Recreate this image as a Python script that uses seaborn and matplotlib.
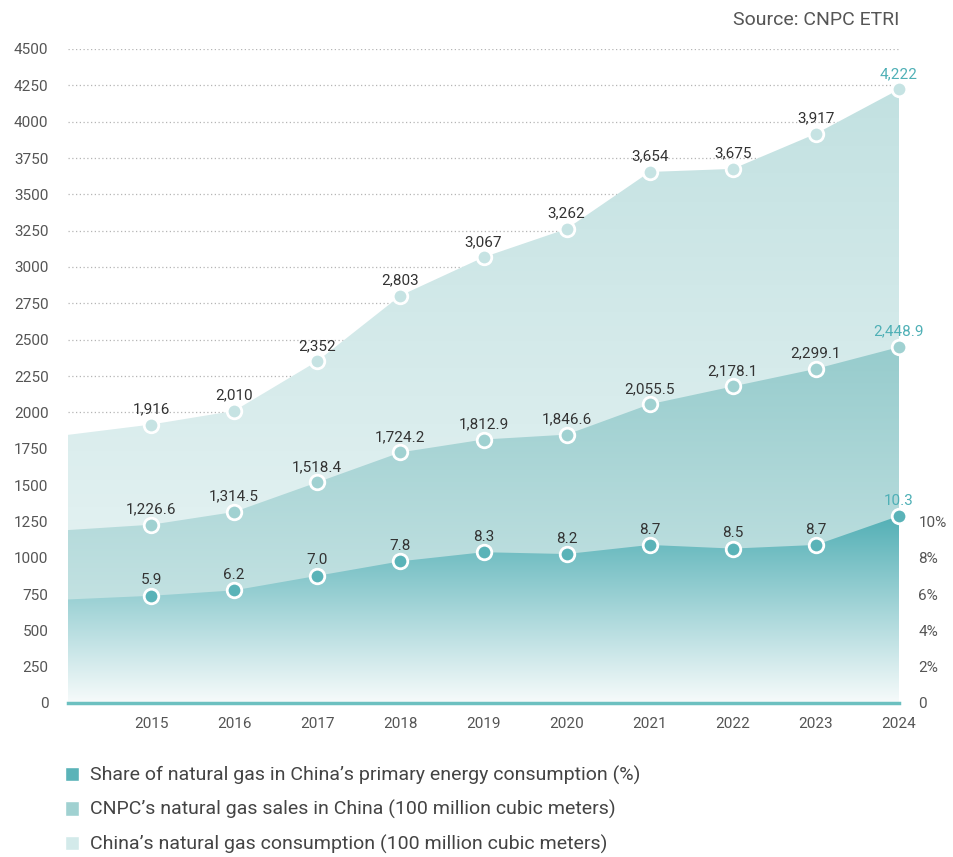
import numpy as np
import pandas as pd
import seaborn as sns
import matplotlib.pyplot as plt
from matplotlib.patches import Patch
from matplotlib.colors import LinearSegmentedColormap

years = [2014, 2015, 2016, 2017, 2018, 2019, 2020, 2021, 2022, 2023, 2024]
consumption = [1845, 1916, 2010, 2352, 2803, 3067, 3262, 3654, 3675, 3917, 4222]
sales = [1190, 1226.6, 1314.5, 1518.4, 1724.2, 1812.9, 1846.6, 2055.5, 2178.1, 2299.1, 2448.9]
share = [5.7, 5.9, 6.2, 7.0, 7.8, 8.3, 8.2, 8.7, 8.5, 8.7, 10.3]

cons_labels = ['1,916', '2,010', '2,352', '2,803', '3,067', '3,262', '3,654', '3,675', '3,917', '4,222']
sales_labels = ['1,226.6', '1,314.5', '1,518.4', '1,724.2', '1,812.9', '1,846.6', '2,055.5',
                '2,178.1', '2,299.1', '2,448.9']
share_labels = ['5.9', '6.2', '7.0', '7.8', '8.3', '8.2', '8.7', '8.5', '8.7', '10.3']

legend_names = ["Share of natural gas in China\u2019s primary energy consumption (%)",
                "CNPC\u2019s natural gas sales in China (100 million cubic meters)",
                "China\u2019s natural gas consumption (100 million cubic meters)"]

SCALE = 125  # 1% on right axis == 125 on left axis

sns.set_theme(style="white")
plt.rcParams['font.family'] = ['Roboto', 'DejaVu Sans']

df = pd.DataFrame({'year': years, 'consumption': consumption, 'sales': sales,
                   'share': [s * SCALE for s in share]})

fig = plt.figure(figsize=(9.54, 8.57), dpi=100)
ax = fig.add_axes([68 / 954, 1 - 703 / 857, (899 - 68) / 954, (703 - 49) / 857])

teal = '#4fb0b6'
series = [
    ('consumption', '#c2e1e1', '#eef7f7', '#c6e3e3'),
    ('sales', '#97cccd', '#d4eaea', '#a0d1d1'),
    ('share', '#52afb5', '#f7fbfb', '#5ab3b8'),
]


def gradient_fill(col, top_c, bot_c):
    y = df[col].values
    poly = ax.fill_between(df['year'], 0, y, color='none', lw=0)
    cmap = LinearSegmentedColormap.from_list(col, [bot_c, top_c])
    grad = np.linspace(0, 1, 256).reshape(-1, 1)
    im = ax.imshow(grad, cmap=cmap, aspect='auto', origin='lower',
                   extent=[2014, 2024, 0, y.max()], zorder=1)
    im.set_clip_path(poly.get_paths()[0], transform=ax.transData)


for col, top_c, bot_c, mk in series:
    gradient_fill(col, top_c, bot_c)

ax.set_xlim(2014, 2024)
ax.set_ylim(0, 4500)
ax.set_yticks(range(0, 4501, 250))
ax.grid(axis='y', color='#b5b5b5', linestyle=(0, (1, 2)), linewidth=0.9, zorder=0)
ax.set_axisbelow(True)

# markers
pts = df[df['year'] >= 2015]
for col, top_c, bot_c, mk in series:
    sns.scatterplot(data=pts, x='year', y=col, ax=ax, color=mk, s=110,
                    edgecolor='white', linewidth=2, zorder=5, legend=False, clip_on=False)

for labels, col in [(cons_labels, 'consumption'), (sales_labels, 'sales'), (share_labels, 'share')]:
    for i, (x, y) in enumerate(zip(pts['year'], pts[col])):
        c = teal if i == len(labels) - 1 else '#333333'
        ax.annotate(labels[i], (x, y), xytext=(0, 6), textcoords='offset points',
                    ha='center', va='bottom', fontsize=11, color=c, zorder=6)

for s in ['top', 'right', 'left']:
    ax.spines[s].set_visible(False)
ax.spines['bottom'].set_color('#6cc0c0')
ax.spines['bottom'].set_linewidth(2.5)
ax.spines['bottom'].set_zorder(7)

ax.set_xticks(years[1:])
ax.set_xticklabels([str(y) for y in years[1:]])
ax.tick_params(axis='x', direction='in', length=5, width=1.2, color='#6cc0c0',
               pad=10, labelsize=11, labelcolor='#555555')
ax.tick_params(axis='y', length=0, pad=14, labelsize=11, labelcolor='#555555')
for lbl in ax.get_yticklabels():
    lbl.set_horizontalalignment('right')
ax.set_xlabel('')
ax.set_ylabel('')

ax2 = ax.twinx()
ax2.set_ylim(0, 4500 / SCALE)
ax2.set_yticks([0, 2, 4, 6, 8, 10])
ax2.set_yticklabels(['0', '2%', '4%', '6%', '8%', '10%'])
ax2.tick_params(axis='y', length=0, pad=14, labelsize=11, labelcolor='#555555')
for s in ax2.spines.values():
    s.set_visible(False)

fig.text(899 / 954, 1 - 20 / 857, 'Source: CNPC ETRI', ha='right', va='center',
         fontsize=14, color='#555555')

handles = [Patch(facecolor=series[2][3]), Patch(facecolor=series[1][3]), Patch(facecolor='#d3eaea')]
fig.legend(handles, legend_names, loc='upper left', bbox_to_anchor=(47 / 954, 1 - 748 / 857),
           frameon=False, fontsize=14, labelspacing=0.8, handlelength=0.75, handleheight=0.75,
           handletextpad=0.55, labelcolor='#444444')

fig.savefig('out.png', dpi=100)
